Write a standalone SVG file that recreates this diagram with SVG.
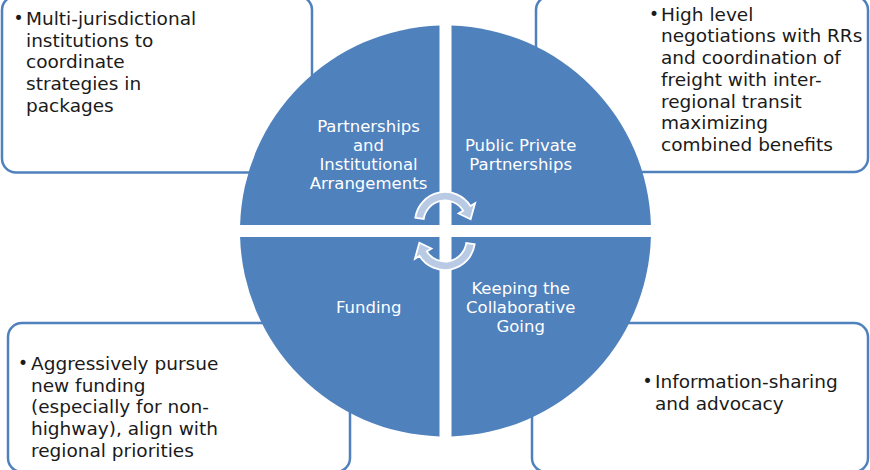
<svg xmlns="http://www.w3.org/2000/svg" width="870" height="470" viewBox="0 0 870 470">
<style>
.box{fill:#ffffff;stroke:#4F81BD;stroke-width:2.5}
.quad{fill:#4F81BD}
.lbl{font-family:"DejaVu Sans",sans-serif;font-size:16.5px;fill:#ffffff;text-anchor:middle}
.txt{font-family:"DejaVu Sans",sans-serif;font-size:18.5px;fill:#1a1a1a}
.bul{font-family:"DejaVu Sans",sans-serif;font-size:17px;fill:#1a1a1a;text-anchor:middle}
.arr{fill:#B9CBE4;stroke:#ffffff;stroke-width:1.8;stroke-linejoin:miter}
</style>
<rect width="870" height="470" fill="#ffffff"/>
<g id="box-tl">
<rect class="box" x="2" y="-4" width="310" height="176.5" rx="14"/>
<text class="bul" x="18.5" y="24">•</text>
<text class="txt" x="26" y="25">Multi-jurisdictional<tspan x="26" dy="21.7">institutions to</tspan><tspan x="26" dy="21.7">coordinate</tspan><tspan x="26" dy="21.7">strategies in</tspan><tspan x="26" dy="21.7">packages</tspan></text>
</g>
<g id="box-tr">
<rect class="box" x="536" y="-4" width="332" height="176" rx="14"/>
<text class="bul" x="654" y="19.7">•</text>
<text class="txt" x="661" y="20.7">High level<tspan x="661" dy="21.7">negotiations with RRs</tspan><tspan x="661" dy="21.7">and coordination of</tspan><tspan x="661" dy="21.7">freight with inter-</tspan><tspan x="661" dy="21.7">regional transit</tspan><tspan x="661" dy="21.7">maximizing</tspan><tspan x="661" dy="21.7">combined benefits</tspan></text>
</g>
<g id="box-bl">
<rect class="box" x="8" y="323" width="342" height="149" rx="14"/>
<text class="bul" x="23" y="369">•</text>
<text class="txt" x="31" y="370">Aggressively pursue<tspan x="31" dy="21.7">new funding</tspan><tspan x="31" dy="21.7">(especially for non-</tspan><tspan x="31" dy="21.7">highway), align with</tspan><tspan x="31" dy="21.7">regional priorities</tspan></text>
</g>
<g id="box-br">
<rect class="box" x="532" y="323" width="336" height="149" rx="14"/>
<text class="bul" x="647.5" y="387">•</text>
<text class="txt" x="655" y="388">Information-sharing<tspan x="655" dy="21.7">and advocacy</tspan></text>
</g>
<g id="q-tl">
<path class="quad" d="M439.5 225 L240.09 225 A205.5 205.5 0 0 1 439.5 25.59 Z"/>
<text class="lbl" x="368.5" y="131.7">Partnerships<tspan x="368.5" dy="19">and</tspan><tspan x="368.5" dy="19">Institutional</tspan><tspan x="368.5" dy="19">Arrangements</tspan></text>
</g>
<g id="q-tr">
<path class="quad" d="M451.5 225 L451.5 25.59 A205.5 205.5 0 0 1 650.91 225 Z"/>
<text class="lbl" x="520.7" y="150.7">Public Private<tspan x="520.7" dy="19.3">Partnerships</tspan></text>
</g>
<g id="q-br">
<path class="quad" d="M451.5 237 L650.91 237 A205.5 205.5 0 0 1 451.5 436.41 Z"/>
<text class="lbl" x="520.7" y="294">Keeping the<tspan x="520.7" dy="18.8">Collaborative</tspan><tspan x="520.7" dy="18.8">Going</tspan></text>
</g>
<g id="q-bl">
<path class="quad" d="M439.5 237 L439.5 436.41 A205.5 205.5 0 0 1 240.09 237 Z"/>
<text class="lbl" x="368.7" y="312.7">Funding</text>
</g>
<g id="connectors">
<path class="arr" d="M415.29 217.82 A30 30 0 0 1 470.44 206.1 L475.11 203.19 L470.61 219.31 L458.57 213.52 L463.23 210.61 A21.5 21.5 0 0 0 423.71 219.01 Z"/>
<path class="arr" d="M474.71 244.18 A30 30 0 0 1 419.56 255.9 L414.89 258.81 L419.39 242.69 L431.43 248.48 L426.77 251.39 A21.5 21.5 0 0 0 466.29 242.99 Z"/>
</g>
</svg>
